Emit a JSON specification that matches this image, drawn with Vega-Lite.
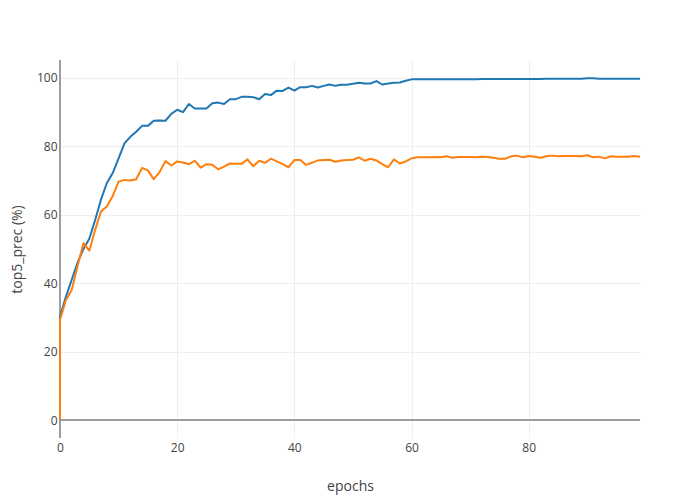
{
  "$schema": "https://vega.github.io/schema/vega-lite/v6.json",
  "width": 580,
  "height": 378,
  "autosize": {"type": "none"},
  "padding": {"left": 60, "top": 60, "right": 60, "bottom": 62},
  "background": "white",
  "config": {
    "view": {"stroke": null},
    "font": "Open Sans",
    "axis": {
      "labelFont": "Open Sans", "titleFont": "Open Sans",
      "labelFontSize": 12, "labelColor": "#444444",
      "titleFontSize": 14, "titleColor": "#444444", "titleFontWeight": "normal",
      "gridColor": "#eeeeee", "gridWidth": 1, "domain": false, "ticks": false,
      "labelFlush": false
    }
  },
  "layer": [
    {
      "data": {"values": [{"value": 0}]},
      "mark": {"type": "rule", "color": "#9e9e9e", "strokeWidth": 2},
      "encoding": {"y": {"field": "value", "type": "quantitative"}}
    },
    {
      "data": {"values": [{"epoch": 0}]},
      "mark": {"type": "rule", "color": "#9e9e9e", "strokeWidth": 2},
      "encoding": {"x": {"field": "epoch", "type": "quantitative"}}
    },
    {
      "data": {"values": [
        {"step": 0, "epoch": 0, "train": 0, "val": 0},
        {"step": 1, "epoch": 0, "train": 30.2, "val": 29.3},
        {"step": 2, "epoch": 1, "train": 36, "val": 35},
        {"step": 3, "epoch": 2, "train": 41, "val": 38},
        {"step": 4, "epoch": 3, "train": 46, "val": 45},
        {"step": 5, "epoch": 4, "train": 50, "val": 51.7},
        {"step": 6, "epoch": 5, "train": 53, "val": 49.5},
        {"step": 7, "epoch": 6, "train": 58.5, "val": 55.6},
        {"step": 8, "epoch": 7, "train": 64.5, "val": 61},
        {"step": 9, "epoch": 8, "train": 69.3, "val": 62.4},
        {"step": 10, "epoch": 9, "train": 72.2, "val": 65.5},
        {"step": 11, "epoch": 10, "train": 76.5, "val": 69.7},
        {"step": 12, "epoch": 11, "train": 80.9, "val": 70.2},
        {"step": 13, "epoch": 12, "train": 82.8, "val": 70},
        {"step": 14, "epoch": 13, "train": 84.3, "val": 70.4},
        {"step": 15, "epoch": 14, "train": 86, "val": 73.7},
        {"step": 16, "epoch": 15, "train": 86, "val": 73},
        {"step": 17, "epoch": 16, "train": 87.5, "val": 70.4},
        {"step": 18, "epoch": 17, "train": 87.6, "val": 72.5},
        {"step": 19, "epoch": 18, "train": 87.5, "val": 75.7},
        {"step": 20, "epoch": 19, "train": 89.5, "val": 74.4},
        {"step": 21, "epoch": 20, "train": 90.7, "val": 75.6},
        {"step": 22, "epoch": 21, "train": 90, "val": 75.3},
        {"step": 23, "epoch": 22, "train": 92.4, "val": 74.8},
        {"step": 24, "epoch": 23, "train": 91.1, "val": 75.8},
        {"step": 25, "epoch": 24, "train": 91.1, "val": 73.8},
        {"step": 26, "epoch": 25, "train": 91.1, "val": 74.8},
        {"step": 27, "epoch": 26, "train": 92.6, "val": 74.6},
        {"step": 28, "epoch": 27, "train": 92.8, "val": 73.3},
        {"step": 29, "epoch": 28, "train": 92.4, "val": 74.1},
        {"step": 30, "epoch": 29, "train": 93.8, "val": 75},
        {"step": 31, "epoch": 30, "train": 93.8, "val": 74.9},
        {"step": 32, "epoch": 31, "train": 94.5, "val": 74.9},
        {"step": 33, "epoch": 32, "train": 94.5, "val": 76.2},
        {"step": 34, "epoch": 33, "train": 94.4, "val": 74.2},
        {"step": 35, "epoch": 34, "train": 93.8, "val": 75.8},
        {"step": 36, "epoch": 35, "train": 95.3, "val": 75.2},
        {"step": 37, "epoch": 36, "train": 95, "val": 76.4},
        {"step": 38, "epoch": 37, "train": 96.3, "val": 75.6},
        {"step": 39, "epoch": 38, "train": 96.2, "val": 74.8},
        {"step": 40, "epoch": 39, "train": 97.2, "val": 73.9},
        {"step": 41, "epoch": 40, "train": 96.3, "val": 76},
        {"step": 42, "epoch": 41, "train": 97.3, "val": 76},
        {"step": 43, "epoch": 42, "train": 97.3, "val": 74.6},
        {"step": 44, "epoch": 43, "train": 97.7, "val": 75.2},
        {"step": 45, "epoch": 44, "train": 97.2, "val": 75.9},
        {"step": 46, "epoch": 45, "train": 97.7, "val": 76},
        {"step": 47, "epoch": 46, "train": 98.1, "val": 76.1},
        {"step": 48, "epoch": 47, "train": 97.7, "val": 75.5},
        {"step": 49, "epoch": 48, "train": 98, "val": 75.9},
        {"step": 50, "epoch": 49, "train": 98, "val": 76},
        {"step": 51, "epoch": 50, "train": 98.3, "val": 76.1},
        {"step": 52, "epoch": 51, "train": 98.6, "val": 76.8},
        {"step": 53, "epoch": 52, "train": 98.4, "val": 75.8},
        {"step": 54, "epoch": 53, "train": 98.4, "val": 76.4},
        {"step": 55, "epoch": 54, "train": 99.1, "val": 75.9},
        {"step": 56, "epoch": 55, "train": 98.1, "val": 74.8},
        {"step": 57, "epoch": 56, "train": 98.4, "val": 73.9},
        {"step": 58, "epoch": 57, "train": 98.6, "val": 76.2},
        {"step": 59, "epoch": 58, "train": 98.7, "val": 75},
        {"step": 60, "epoch": 59, "train": 99.2, "val": 75.6},
        {"step": 61, "epoch": 60, "train": 99.6, "val": 76.5},
        {"step": 62, "epoch": 61, "train": 99.6, "val": 76.8},
        {"step": 63, "epoch": 62, "train": 99.6, "val": 76.8},
        {"step": 64, "epoch": 63, "train": 99.6, "val": 76.8},
        {"step": 65, "epoch": 64, "train": 99.6, "val": 76.9},
        {"step": 66, "epoch": 65, "train": 99.6, "val": 76.8},
        {"step": 67, "epoch": 66, "train": 99.6, "val": 77.1},
        {"step": 68, "epoch": 67, "train": 99.6, "val": 76.7},
        {"step": 69, "epoch": 68, "train": 99.6, "val": 76.9},
        {"step": 70, "epoch": 69, "train": 99.6, "val": 76.9},
        {"step": 71, "epoch": 70, "train": 99.6, "val": 76.9},
        {"step": 72, "epoch": 71, "train": 99.6, "val": 76.8},
        {"step": 73, "epoch": 72, "train": 99.7, "val": 77},
        {"step": 74, "epoch": 73, "train": 99.7, "val": 76.9},
        {"step": 75, "epoch": 74, "train": 99.7, "val": 76.7},
        {"step": 76, "epoch": 75, "train": 99.7, "val": 76.4},
        {"step": 77, "epoch": 76, "train": 99.7, "val": 76.4},
        {"step": 78, "epoch": 77, "train": 99.7, "val": 77.1},
        {"step": 79, "epoch": 78, "train": 99.7, "val": 77.3},
        {"step": 80, "epoch": 79, "train": 99.7, "val": 76.8},
        {"step": 81, "epoch": 80, "train": 99.7, "val": 77.2},
        {"step": 82, "epoch": 81, "train": 99.7, "val": 77},
        {"step": 83, "epoch": 82, "train": 99.7, "val": 76.7},
        {"step": 84, "epoch": 83, "train": 99.8, "val": 77.1},
        {"step": 85, "epoch": 84, "train": 99.8, "val": 77.3},
        {"step": 86, "epoch": 85, "train": 99.8, "val": 77.1},
        {"step": 87, "epoch": 86, "train": 99.8, "val": 77.2},
        {"step": 88, "epoch": 87, "train": 99.8, "val": 77.2},
        {"step": 89, "epoch": 88, "train": 99.8, "val": 77.2},
        {"step": 90, "epoch": 89, "train": 99.8, "val": 77.1},
        {"step": 91, "epoch": 90, "train": 99.9, "val": 77.4},
        {"step": 92, "epoch": 91, "train": 99.9, "val": 76.8},
        {"step": 93, "epoch": 92, "train": 99.8, "val": 77},
        {"step": 94, "epoch": 93, "train": 99.8, "val": 76.5},
        {"step": 95, "epoch": 94, "train": 99.8, "val": 77.1},
        {"step": 96, "epoch": 95, "train": 99.8, "val": 77},
        {"step": 97, "epoch": 96, "train": 99.8, "val": 77},
        {"step": 98, "epoch": 97, "train": 99.8, "val": 77},
        {"step": 99, "epoch": 98, "train": 99.8, "val": 77.2},
        {"step": 100, "epoch": 99, "train": 99.8, "val": 77}
      ]},
      "transform": [{"fold": ["train", "val"], "as": ["series", "value"]}],
      "mark": {"type": "line", "strokeWidth": 2, "strokeJoin": "round"},
      "encoding": {
        "x": {
          "field": "epoch", "type": "quantitative",
          "scale": {"domain": [0, 99], "nice": false, "zero": false},
          "axis": {"values": [0, 20, 40, 60, 80], "title": "epochs", "grid": true, "labelPadding": 4, "titlePadding": 26}
        },
        "y": {
          "field": "value", "type": "quantitative",
          "scale": {"domain": [-5.26, 105.26], "nice": false, "zero": false},
          "axis": {"values": [0, 20, 40, 60, 80, 100], "title": "top5_prec (%)", "grid": true, "labelPadding": 3, "titlePadding": 12}
        },
        "color": {
          "field": "series", "type": "nominal",
          "scale": {"domain": ["train", "val"], "range": ["#1f77b4", "#ff7f0e"]},
          "legend": null
        },
        "order": {"field": "step", "type": "quantitative"}
      }
    }
  ]
}
